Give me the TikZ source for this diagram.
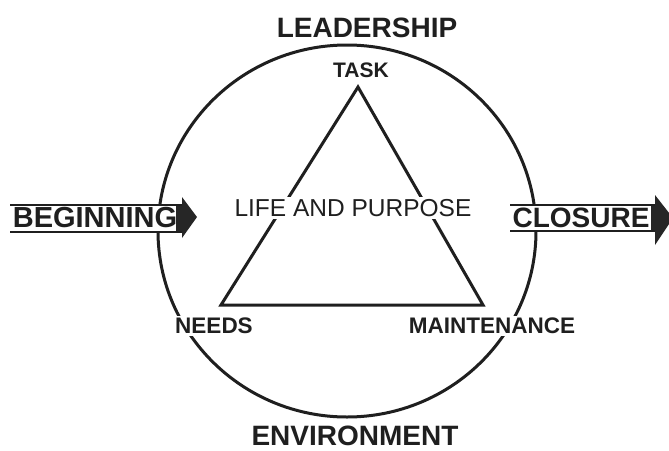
\documentclass[tikz,border=0pt]{standalone}
\usepackage{fontspec}
\setmainfont{Liberation Sans}

\tikzset{
  ink/.style={black!88},
  bigword/.style={ink, inner sep=0pt, font=\bfseries\fontsize{28}{28}\selectfont},
  cornerword/.style={ink, fill=white, inner sep=2.5pt, font=\bfseries\fontsize{22.5}{22.5}\selectfont},
  ring/.style={draw=black!88, line width=3pt},
  shaft/.style={draw=black!88, line width=1.2pt},
  head/.style={fill=black!85, draw=none},
}

\begin{document}
\begin{tikzpicture}[x=1pt,y=-1pt]
	%%%%% frame %%%%%
	\useasboundingbox (0,0) rectangle (669,450);
	\clip (0,0) rectangle (669,450);
	\fill[white] (0,0) rectangle (669,450);
	
	%%%%% circle and triangle %%%%%
	\coordinate (hub) at (347,231);
	\draw[ring] (hub) ellipse (189 and 186);
	
	\coordinate (apex) at (358,87);
	\coordinate (baseL) at (221,305);
	\coordinate (baseR) at (483,305);
	\draw[ring, line join=miter] (apex) -- (baseL) -- (baseR) -- cycle;
	
	\node[ink, fill=white, inner sep=2pt, font=\fontsize{24.5}{24.5}\selectfont] (life) at (353,208) {LIFE AND PURPOSE};
	
	%%%%% labels %%%%%
	\node[bigword] (lead) at (367,28) {LEADERSHIP};
	\node[bigword] (env) at (355,436) {ENVIRONMENT};
	\node[cornerword, font=\bfseries\fontsize{21}{21}\selectfont] (task) at (361,70) {TASK};
	\node[cornerword] (needs) at (214,326) {NEEDS};
	\node[cornerword] (maint) at (492,326) {MAINTENANCE};
	
	%%%%% way in %%%%%
	\fill[white] (10,205) rectangle (182,232);
	\draw[shaft] (10,205) -- (182,205);
	\draw[shaft] (10,232) -- (182,232);
	\fill[head] (176,206) -- (182,206) -- (182,197) -- (197,217) -- (182,238) -- (182,231) -- (176,231) -- cycle;
	\node[bigword, font=\bfseries\fontsize{29}{29}\selectfont] (begin) at (95,218) {BEGINNING};
	
	%%%%% way out %%%%%
	\fill[white] (510,205) rectangle (655,231);
	\draw[shaft] (510,205) -- (655,205);
	\draw[shaft] (510,231) -- (655,231);
	\fill[head] (651,206) -- (655,206) -- (655,195) -- (673,218) -- (655,245) -- (655,230) -- (651,230) -- cycle;
	\node[bigword] (close) at (581,218) {CLOSURE};
\end{tikzpicture}
\end{document}
